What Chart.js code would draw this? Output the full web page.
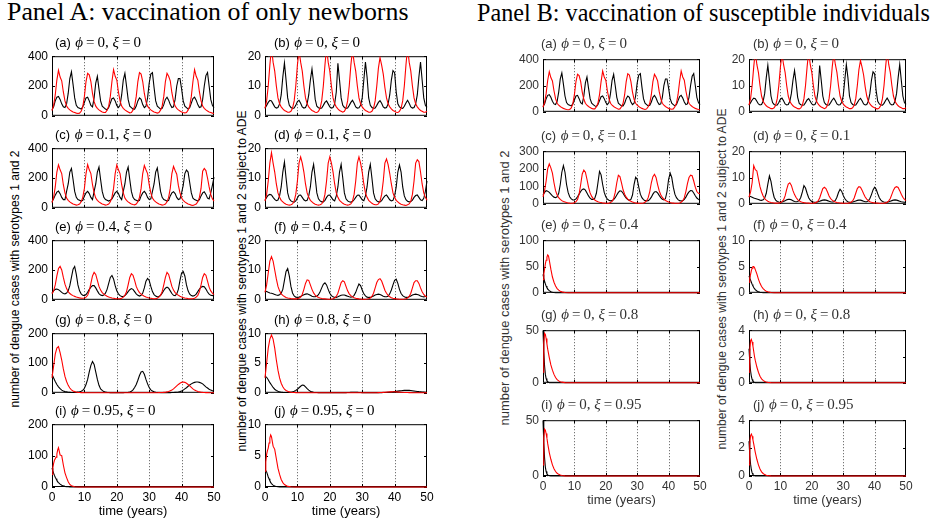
<!DOCTYPE html>
<html>
<head>
<meta charset="utf-8">
<script src="https://cdn.jsdelivr.net/npm/chart.js@4.4.1/dist/chart.umd.min.js"></script>
<style>
  body { margin: 0; background: #fff; width: 936px; height: 523px; position: relative; overflow: hidden;
         font-family: "Liberation Sans", Arial, sans-serif; }
  .cv { position: absolute; }
  .txt { position: absolute; white-space: nowrap; line-height: 1; }
  .lab { font-size: 13px; }
  .m { font-family: "Liberation Serif", serif; font-size: 15px; }
  .rot { transform: translate(-50%, -50%) rotate(-90deg); transform-origin: center; }
</style>
</head>
<body>
<script>
// time grids (years)
const years = Array.from({ length: 101 }, (_, i) => i / 2);
const yearsEarly = [0, 0.25, 0.5, 0.75, 1, 1.25, 1.5, 1.75, 2, 2.5, 3, 3.5, 4, 4.5, 5, 5.5, 6, 7, 8, 9, 10, 12, 50];
const xTicks = [0, 10, 20, 30, 40, 50];

// y tick sets
const ticks400 = [0, 200, 400];
const ticks300 = [0, 100, 200, 300];
const ticks200 = [0, 100, 200];
const ticks100 = [0, 50, 100];
const ticks50 = [0, 50];
const ticks20 = [0, 10, 20];
const ticks10 = [0, 5, 10];
const ticks4 = [0, 2, 4];

// Panel A (a) phi=0, xi=0  (also Panel B (a))
const aRed = [
  35, 70, 140, 240, 305, 260, 235, 160, 100, 65,
  50, 40, 32, 26, 22, 18, 16, 18, 30, 60,
  130, 230, 285, 275, 230, 150, 95, 65, 50, 40,
  32, 26, 22, 22, 38, 65, 130, 230, 310, 265,
  240, 160, 100, 65, 50, 40, 32, 26, 20, 22,
  38, 65, 130, 230, 290, 280, 230, 150, 95, 65,
  50, 40, 32, 26, 22, 18, 22, 38, 65, 130,
  230, 285, 265, 235, 155, 100, 65, 50, 40, 32,
  26, 22, 20, 22, 38, 65, 130, 230, 310, 265,
  240, 160, 100, 65, 50, 40, 32, 26, 22, 18,
  16];
const aBlack = [
  40, 60, 100, 125, 130, 110, 80, 60, 55, 80,
  150, 250, 295, 210, 120, 70, 55, 50, 45, 60,
  90, 120, 125, 100, 70, 60, 120, 220, 265, 180,
  100, 65, 55, 45, 40, 55, 85, 115, 120, 100,
  70, 55, 70, 140, 240, 285, 200, 110, 65, 55,
  45, 45, 65, 100, 120, 110, 75, 55, 65, 120,
  220, 280, 290, 190, 100, 65, 55, 45, 50, 75,
  110, 125, 105, 75, 55, 60, 110, 200, 250, 250,
  180, 100, 65, 55, 45, 55, 85, 115, 125, 105,
  75, 55, 60, 110, 200, 270, 290, 200, 110, 70,
  55];

// Panel A (b) ADE, phi=0, xi=0  (also Panel B (b))
const bRed = [
  2.5, 5, 10, 17, 23, 18, 15, 10, 6, 4,
  3, 2.3, 1.8, 1.5, 1.2, 1.2, 1.5, 2.5, 5, 10,
  17, 22, 18, 15, 10, 6, 4, 3, 2.3, 1.8,
  1.5, 1.2, 1.1, 1.5, 2.5, 5, 10, 17, 23, 18,
  15, 10, 6, 4, 3, 2.3, 1.8, 1.5, 1.2, 1.5,
  2.5, 5, 10, 17, 22, 18, 15, 10, 6, 4,
  3, 2.3, 1.8, 1.5, 1.2, 1.2, 1.5, 2.5, 5, 10,
  16, 19.5, 17, 14, 9.5, 6, 4, 3, 2.3, 1.8,
  1.5, 1.2, 1.1, 1.5, 2.5, 5, 10, 17, 23, 18,
  15, 10, 6, 4, 3, 2.3, 1.8, 1.5, 1.2, 1.2,
  1.5];
const bBlack = [
  2.5, 3.5, 4.5, 5.2, 5, 4, 3, 2.6, 2.8, 4,
  7, 13, 17.7, 12, 6, 3.5, 2.8, 2.5, 2.6, 3.5,
  4.8, 5.2, 4.2, 3, 2.6, 2.8, 4, 7, 12, 15.7,
  11, 5.5, 3.2, 2.7, 2.5, 2.6, 3.5, 4.5, 5, 4,
  3, 2.6, 2.8, 4, 8, 17.6, 12, 6, 3.5, 2.8,
  2.5, 2.6, 3.5, 4.5, 5.2, 4.2, 3, 2.6, 2.7, 3.5,
  6, 12, 18, 13, 6, 3.5, 2.8, 2.5, 2.6, 3.5,
  4.5, 5.1, 4.2, 3, 2.6, 2.8, 4, 7, 12, 15.2,
  14.5, 8, 4, 3, 2.6, 2.5, 3.2, 4.3, 5.2, 4.2,
  3, 2.6, 2.8, 4, 7, 13, 18, 12, 6, 3.5,
  2.8];

// Panel A (c) phi=0.1
const cRed = [
  35, 70, 140, 240, 288, 255, 230, 155, 100, 65,
  50, 40, 32, 26, 22, 18, 20, 25, 40, 70,
  130, 230, 290, 255, 230, 155, 100, 65, 50, 40,
  32, 26, 22, 18, 20, 25, 40, 70, 130, 230,
  288, 255, 230, 155, 100, 65, 50, 40, 32, 26,
  22, 20, 25, 40, 70, 130, 230, 284, 255, 230,
  155, 100, 65, 50, 40, 32, 26, 22, 18, 20,
  25, 40, 70, 130, 230, 278, 250, 225, 150, 100,
  65, 50, 40, 32, 26, 22, 18, 16, 20, 25,
  40, 70, 130, 245, 264, 250, 200, 140, 90, 60,
  45];
const cBlack = [
  40, 60, 85, 105, 112, 95, 70, 55, 55, 110,
  160, 240, 264, 190, 110, 70, 55, 50, 45, 50,
  80, 100, 110, 95, 70, 55, 110, 160, 240, 274,
  190, 110, 70, 55, 50, 45, 50, 60, 80, 100,
  110, 95, 70, 55, 110, 160, 240, 274, 190, 110,
  70, 55, 50, 45, 50, 80, 100, 110, 95, 70,
  55, 60, 110, 160, 240, 268, 190, 110, 70, 55,
  50, 45, 50, 80, 100, 108, 95, 70, 55, 60,
  100, 150, 230, 254, 240, 170, 100, 65, 55, 50,
  45, 55, 80, 100, 108, 90, 65, 60, 100, 150,
  205];

// Panel A (d) ADE, phi=0.1
const dRed = [
  2.2, 4.5, 9, 15, 18.5, 15, 12, 8, 5, 3.5,
  2.5, 2, 1.5, 1.2, 1, 0.9, 1, 1.3, 2.2, 4.5,
  9, 15, 17.1, 15, 12, 8, 5, 3.5, 2.5, 2,
  1.5, 1.2, 1, 0.9, 1, 1.3, 2.2, 4.5, 9, 15,
  17.1, 15, 12, 8, 5, 3.5, 2.5, 2, 1.5, 1.2,
  1, 0.9, 1, 1.3, 2.2, 4.5, 9, 15, 17.1, 15,
  12, 8, 5, 3.5, 2.5, 2, 1.5, 1.2, 1, 1,
  1.3, 2.2, 4.5, 9, 15, 16.4, 14.5, 11.5, 8, 5,
  3.5, 2.5, 2, 1.5, 1.2, 1, 0.9, 0.8, 1, 1.3,
  2.2, 4.5, 9, 15, 16.1, 15.5, 12, 8, 5, 3.5,
  2.5];
const dBlack = [
  2.5, 3.5, 4.2, 4.5, 4.3, 3.5, 2.8, 2.4, 2.6, 4,
  7, 12, 15.4, 10, 5, 3, 2.3, 2, 1.9, 2.3,
  3.3, 4.2, 4.3, 3.5, 2.7, 2.3, 2.5, 4, 7, 12,
  14.6, 10, 5, 3, 2.3, 2, 2, 2.5, 3.5, 4.2,
  4.3, 3.5, 2.7, 2.3, 4, 7, 12, 14.6, 10, 5,
  3, 2.3, 2, 1.9, 2.1, 2.7, 3.5, 4.2, 4.3, 3.5,
  2.7, 2.4, 4, 7, 12, 14.6, 10, 5, 3, 2.3,
  2, 2, 2.4, 3.3, 4, 4.3, 3.5, 2.7, 2.3, 2.5,
  4, 7, 12, 14.4, 12, 7, 4, 2.7, 2.2, 2,
  2.1, 2.6, 3.5, 4.1, 4.3, 3.5, 2.7, 2.4, 3.2, 5.5,
  9];

// Panel A (e) phi=0.4
const eRed = [
  40, 60, 100, 160, 210, 224, 200, 150, 105, 75,
  55, 42, 34, 28, 23, 19, 16, 13, 11, 10,
  12, 18, 30, 60, 110, 160, 184, 170, 130, 90,
  65, 48, 38, 30, 24, 19, 15, 12, 10, 8,
  7, 7, 8, 11, 18, 30, 55, 100, 150, 175,
  165, 130, 90, 65, 48, 38, 30, 24, 19, 15,
  12, 10, 8, 7, 8, 11, 18, 30, 55, 100,
  150, 184, 170, 130, 90, 65, 48, 38, 30, 24,
  19, 15, 12, 10, 8, 7, 7, 8, 11, 18,
  30, 55, 100, 150, 175, 165, 125, 85, 60, 45,
  35];
const eBlack = [
  45, 60, 70, 72, 68, 60, 50, 42, 40, 45,
  60, 95, 150, 205, 224, 170, 100, 60, 40, 30,
  28, 35, 50, 70, 85, 95, 95, 80, 60, 42,
  32, 28, 32, 45, 70, 110, 150, 163, 140, 95,
  60, 40, 28, 22, 22, 28, 40, 55, 68, 75,
  70, 55, 40, 30, 25, 30, 45, 80, 125, 143,
  130, 90, 55, 35, 25, 20, 22, 30, 45, 62,
  78, 85, 78, 60, 42, 30, 28, 40, 70, 130,
  180, 190, 160, 100, 60, 38, 28, 25, 28, 38,
  55, 72, 85, 90, 88, 72, 52, 38, 30, 28,
  32];

// Panel A (f) ADE, phi=0.4
const fRed = [
  2.5, 5, 9, 13, 14.5, 13, 10, 7, 4.5, 3,
  2, 1.5, 1.1, 0.8, 0.6, 0.5, 0.4, 0.35, 0.3, 0.3,
  0.35, 0.5, 0.9, 1.8, 3.5, 5.5, 6.7, 6.5, 5, 3.5,
  2.3, 1.6, 1.1, 0.8, 0.6, 0.45, 0.35, 0.3, 0.25, 0.2,
  0.2, 0.25, 0.35, 0.6, 1.1, 2.2, 4, 5.8, 6.4, 6,
  4.5, 3, 2, 1.4, 1, 0.7, 0.5, 0.4, 0.3, 0.25,
  0.2, 0.2, 0.2, 0.25, 0.35, 0.6, 1.1, 2.2, 4, 5.8,
  6.8, 7.1, 6.3, 4.8, 3.2, 2.2, 1.5, 1, 0.7, 0.5,
  0.4, 0.3, 0.25, 0.2, 0.2, 0.2, 0.25, 0.35, 0.6, 1.1,
  2.2, 4, 5.8, 6.4, 6.4, 5.5, 4, 2.7, 1.8, 1.2,
  0.9];
const fBlack = [
  3, 2.8, 2.5, 2.3, 2.2, 2, 1.8, 1.6, 1.5, 1.7,
  2.2, 3.5, 6.5, 9.5, 10.5, 8, 4.5, 2.3, 1.3, 0.9,
  0.8, 0.9, 1.1, 1.4, 1.7, 1.9, 2, 1.8, 1.5, 1.2,
  1, 1, 1.2, 1.7, 2.7, 4, 5.2, 5.7, 5, 3.5,
  2.2, 1.4, 1, 0.8, 0.8, 1, 1.3, 1.5, 1.6, 1.6,
  1.4, 1.2, 1, 0.9, 1, 1.5, 2.5, 4, 5.3, 4.8,
  3.3, 2, 1.3, 0.9, 0.8, 0.8, 1, 1.3, 1.6, 1.8,
  1.9, 1.8, 1.5, 1.2, 1, 1, 1.2, 2, 3.3, 5,
  6.5, 6.9, 5.5, 3.5, 2.1, 1.4, 1, 0.8, 0.8, 1,
  1.3, 1.6, 1.8, 1.9, 1.8, 1.6, 1.3, 1.1, 1, 1.1,
  1.4];

// Panel A (g) phi=0.8
const gRed = [
  50, 90, 130, 150, 155, 135, 110, 80, 55, 38,
  25, 16, 10, 6, 4, 2.5, 1.5, 1, 0.7, 0.5,
  0.4, 0.3, 0.2, 0.2, 0.2, 0.1, 0.1, 0.1, 0.1, 0.1,
  0.1, 0.1, 0.1, 0.1, 0.1, 0.1, 0.1, 0.1, 0.1, 0.1,
  0.1, 0.1, 0.1, 0.1, 0.1, 0.1, 0.1, 0.1, 0.1, 0.1,
  0.1, 0.1, 0.1, 0.1, 0.1, 0.1, 0.1, 0.1, 0.1, 0.1,
  0.1, 0.1, 0.1, 0.2, 0.3, 0.4, 0.6, 0.8, 1.1, 1.5,
  2, 3, 4.5, 6.5, 9, 13, 18, 23, 28, 32,
  35, 36, 35, 32, 28, 23, 18, 13, 9, 6.5,
  4.5, 3, 2, 1.4, 1, 0.7, 0.5, 0.4, 0.3, 0.2,
  0.2];
const gBlack = [
  62, 50, 38, 28, 20, 14, 9, 6, 4, 3,
  2, 1.5, 1, 1, 1.2, 1.6, 2.5, 3.5, 5, 8,
  15, 28, 45, 70, 92, 105, 95, 70, 45, 25,
  13, 8, 4, 2.5, 1.5, 1, 0.7, 0.5, 0.5, 0.5,
  0.5, 0.5, 0.5, 0.5, 0.6, 0.8, 1, 1.5, 3, 5,
  10, 18, 28, 42, 58, 70, 72, 62, 45, 30,
  18, 10, 6, 3.5, 2, 1.2, 0.8, 0.5, 0.5, 0.5,
  0.5, 0.5, 0.5, 0.6, 0.8, 1, 1.5, 2, 2.5, 4,
  6, 9, 13, 17, 22, 26, 30, 33, 35, 36,
  36, 35, 33, 30, 25, 20, 16, 12, 9, 7,
  5];

// Panel A (h) ADE, phi=0.8
const hRed = [
  2.5, 5, 7.5, 9, 9.7, 9, 7.5, 5.5, 3.8, 2.5,
  1.6, 1, 0.6, 0.4, 0.25, 0.15, 0.1, 0.06, 0.04, 0.03,
  0.02, 0.02, 0.02, 0.02, 0.02, 0.02, 0.02, 0.02, 0.02, 0.02,
  0.02, 0.02, 0.02, 0.02, 0.02, 0.02, 0.02, 0.02, 0.02, 0.02,
  0.02, 0.02, 0.02, 0.02, 0.02, 0.02, 0.02, 0.02, 0.02, 0.02,
  0.02, 0.02, 0.02, 0.02, 0.02, 0.02, 0.02, 0.02, 0.02, 0.02,
  0.02, 0.02, 0.02, 0.02, 0.02, 0.02, 0.02, 0.02, 0.02, 0.02,
  0.03, 0.04, 0.05, 0.07, 0.09, 0.11, 0.13, 0.15, 0.16, 0.17,
  0.17, 0.16, 0.14, 0.12, 0.1, 0.08, 0.06, 0.05, 0.04, 0.03,
  0.03, 0.02, 0.02, 0.02, 0.02, 0.02, 0.02, 0.02, 0.02, 0.02,
  0.02];
const hBlack = [
  2.8, 2.6, 2.2, 1.7, 1.3, 0.9, 0.6, 0.4, 0.25, 0.15,
  0.1, 0.07, 0.05, 0.05, 0.05, 0.07, 0.1, 0.15, 0.25, 0.4,
  0.6, 0.85, 1.1, 1.3, 1.25, 1, 0.7, 0.45, 0.25, 0.15,
  0.1, 0.06, 0.04, 0.03, 0.03, 0.03, 0.03, 0.03, 0.03, 0.03,
  0.03, 0.03, 0.03, 0.03, 0.03, 0.03, 0.03, 0.03, 0.03, 0.03,
  0.03, 0.04, 0.05, 0.07, 0.09, 0.1, 0.09, 0.07, 0.05, 0.04,
  0.03, 0.03, 0.03, 0.03, 0.03, 0.03, 0.03, 0.03, 0.03, 0.03,
  0.03, 0.03, 0.03, 0.04, 0.05, 0.06, 0.08, 0.1, 0.13, 0.16,
  0.2, 0.24, 0.28, 0.32, 0.35, 0.38, 0.4, 0.41, 0.41, 0.4,
  0.38, 0.35, 0.31, 0.27, 0.23, 0.19, 0.16, 0.13, 0.11, 0.09,
  0.08];

// Panel A (i), (j) phi=0.95 (on yearsEarly)
const iRed = [40, 60, 75, 85, 90, 95, 105, 118, 125, 102, 100, 70, 45, 30, 17, 8, 4, 1, 0.2, 0.05, 0, 0, 0];
const iBlack = [60, 52, 44, 37, 31, 26, 21, 17, 14, 9, 5.5, 3.5, 2, 1.2, 0.7, 0.4, 0.2, 0.05, 0, 0, 0, 0, 0];
const jRed = [2.5, 4, 5.2, 5.8, 6.2, 7, 7.8, 8.3, 8, 6.5, 6, 4.5, 3, 2, 1.2, 0.7, 0.4, 0.1, 0.03, 0.01, 0, 0, 0];
const jBlack = [2.5, 2.6, 2.4, 2, 1.6, 1.3, 1, 0.75, 0.55, 0.3, 0.15, 0.08, 0.04, 0.02, 0.01, 0, 0, 0, 0, 0, 0, 0, 0];

// Panel B (c) xi=0.1
const scRed = [
  40, 75, 130, 200, 228, 205, 175, 120, 75, 50,
  35, 25, 18, 13, 10, 7, 5, 4, 3.5, 4,
  6, 12, 25, 55, 110, 170, 192, 180, 140, 95,
  62, 42, 30, 22, 16, 12, 9, 7, 5, 4,
  3, 3, 4, 7, 14, 30, 65, 120, 163, 155,
  120, 80, 55, 38, 27, 19, 14, 10, 7, 5,
  4, 3, 3, 3.5, 5, 9, 18, 35, 70, 120,
  155, 168, 150, 110, 75, 52, 36, 26, 19, 14,
  10, 7, 5, 4, 3, 3, 3.5, 5, 9, 18,
  35, 70, 115, 150, 163, 160, 130, 95, 70, 60,
  58];
const scBlack = [
  50, 65, 75, 72, 65, 55, 45, 38, 35, 40,
  60, 110, 180, 218, 180, 110, 65, 40, 28, 22,
  22, 28, 40, 55, 70, 82, 85, 78, 62, 45,
  32, 25, 25, 32, 60, 120, 185, 165, 110, 65,
  40, 27, 20, 17, 18, 24, 35, 50, 65, 74,
  72, 60, 45, 32, 24, 20, 25, 50, 110, 151,
  140, 95, 55, 35, 24, 18, 16, 18, 25, 38,
  55, 68, 70, 62, 48, 35, 26, 22, 30, 70,
  140, 175, 150, 95, 55, 35, 24, 18, 16, 18,
  25, 38, 55, 68, 76, 75, 62, 46, 33, 25,
  20];

// Panel B (d) ADE, xi=0.1
const sdRed = [
  2.5, 4.5, 8, 14.5, 13, 12.5, 9.5, 6.5, 4.5, 3,
  2, 1.4, 1, 0.7, 0.5, 0.4, 0.3, 0.25, 0.25, 0.3,
  0.45, 0.8, 1.5, 3, 5.5, 7.5, 8, 7, 5, 3.5,
  2.4, 1.6, 1.1, 0.8, 0.6, 0.45, 0.35, 0.3, 0.25, 0.2,
  0.2, 0.25, 0.35, 0.6, 1.1, 2.2, 4, 5.8, 6.3, 5.8,
  4.5, 3, 2, 1.4, 1, 0.7, 0.5, 0.4, 0.3, 0.25,
  0.2, 0.2, 0.2, 0.25, 0.35, 0.6, 1.1, 2.2, 4, 5.8,
  6.5, 6.3, 5.2, 3.8, 2.6, 1.8, 1.2, 0.8, 0.6, 0.45,
  0.35, 0.3, 0.25, 0.2, 0.2, 0.2, 0.25, 0.35, 0.6, 1.1,
  2, 3.6, 5.2, 6.2, 6.5, 6.2, 5, 3.6, 2.5, 1.7,
  1.2];
const sdBlack = [
  3, 2.8, 2.5, 2.2, 2, 1.8, 1.6, 1.4, 1.3, 1.5,
  2.2, 4, 7.5, 10.6, 8.5, 5, 2.5, 1.4, 0.9, 0.7,
  0.6, 0.7, 0.9, 1.2, 1.5, 1.7, 1.7, 1.5, 1.2, 0.9,
  0.8, 0.9, 1.3, 2.5, 4.5, 6.9, 6, 4, 2.3, 1.4,
  0.9, 0.7, 0.6, 0.6, 0.8, 1, 1.2, 1.4, 1.5, 1.4,
  1.2, 1, 0.8, 0.7, 0.8, 1.3, 2.5, 4.3, 5.5, 4.8,
  3.2, 2, 1.2, 0.8, 0.6, 0.6, 0.7, 0.9, 1.1, 1.3,
  1.4, 1.4, 1.2, 1, 0.8, 0.8, 1.1, 2, 3.5, 5.3,
  6.3, 5.5, 3.8, 2.3, 1.4, 0.9, 0.7, 0.6, 0.6, 0.8,
  1, 1.2, 1.4, 1.5, 1.4, 1.2, 1, 0.8, 0.7, 0.6,
  0.6];

// Panel B (e)-(j) on yearsEarly
const seRed = [25, 35, 45, 55, 62, 68, 72, 70, 62, 45, 30, 20, 13, 8, 5, 3, 1.8, 0.6, 0.2, 0.1, 0, 0, 0];
const seBlack = [35, 28, 22, 17, 13, 10, 7.5, 5.5, 4, 2, 1, 0.5, 0.2, 0.1, 0, 0, 0, 0, 0, 0, 0, 0, 0];
const sfRed = [2, 2.8, 3.5, 4.2, 4.7, 5, 5, 4.8, 4.4, 3.6, 2.6, 1.8, 1.2, 0.8, 0.5, 0.3, 0.2, 0.06, 0.02, 0, 0, 0, 0];
const sfBlack = [3.2, 2.8, 2.4, 2, 1.6, 1.3, 1, 0.8, 0.6, 0.35, 0.2, 0.1, 0.05, 0.02, 0, 0, 0, 0, 0, 0, 0, 0, 0];
const sgRed = [10, 38, 47, 46, 42, 37, 32, 28, 24, 17, 12, 8, 5, 3, 1.8, 1, 0.6, 0.2, 0.05, 0, 0, 0, 0];
const sgBlack = [50, 30, 16, 8, 4, 2, 1, 0.5, 0.2, 0.05, 0, 0, 0, 0, 0, 0, 0, 0, 0, 0, 0, 0, 0];
const shRed = [0.8, 2.4, 3.2, 3.3, 3.1, 2.8, 2.4, 2, 1.7, 1.2, 0.8, 0.5, 0.3, 0.18, 0.1, 0.06, 0.03, 0.01, 0, 0, 0, 0, 0];
const shBlack = [2.6, 1.6, 0.9, 0.5, 0.25, 0.12, 0.06, 0.03, 0.01, 0, 0, 0, 0, 0, 0, 0, 0, 0, 0, 0, 0, 0, 0];
const siRed = [10, 34, 42, 41, 38, 34, 29, 25, 21, 15, 10, 6.5, 4, 2.5, 1.5, 0.9, 0.5, 0.15, 0.04, 0, 0, 0, 0];
const siBlack = [50, 30, 16, 8, 4, 2, 1, 0.5, 0.2, 0.05, 0, 0, 0, 0, 0, 0, 0, 0, 0, 0, 0, 0, 0];
const sjRed = [0.8, 2.3, 2.9, 3, 2.85, 2.6, 2.3, 2, 1.7, 1.2, 0.8, 0.5, 0.3, 0.18, 0.1, 0.06, 0.03, 0.01, 0, 0, 0, 0, 0];
const sjBlack = [2.5, 1.5, 0.85, 0.45, 0.22, 0.1, 0.05, 0.02, 0.01, 0, 0, 0, 0, 0, 0, 0, 0, 0, 0, 0, 0, 0, 0];

// layout of the plot boxes (page pixels)
const A_COLS = [52, 265], A_W = 162, A_ROWS = [53, 145, 237, 330, 421], A_H = 66;
const B_COLS = [543, 749], B_W = 157, B_ROWS = [56, 148, 237, 327, 417], B_H = 59;

const plots = [
  ['A', 0, 0, 'a', '0', '0', years, aRed, aBlack, 400, ticks400],
  ['A', 1, 0, 'b', '0', '0', years, bRed, bBlack, 20, ticks20],
  ['A', 0, 1, 'c', '0.1', '0', years, cRed, cBlack, 400, ticks400],
  ['A', 1, 1, 'd', '0.1', '0', years, dRed, dBlack, 20, ticks20],
  ['A', 0, 2, 'e', '0.4', '0', years, eRed, eBlack, 400, ticks400],
  ['A', 1, 2, 'f', '0.4', '0', years, fRed, fBlack, 20, ticks20],
  ['A', 0, 3, 'g', '0.8', '0', years, gRed, gBlack, 200, ticks200],
  ['A', 1, 3, 'h', '0.8', '0', years, hRed, hBlack, 10, ticks10],
  ['A', 0, 4, 'i', '0.95', '0', yearsEarly, iRed, iBlack, 200, ticks200],
  ['A', 1, 4, 'j', '0.95', '0', yearsEarly, jRed, jBlack, 10, ticks10],
  ['B', 0, 0, 'a', '0', '0', years, aRed, aBlack, 400, ticks400],
  ['B', 1, 0, 'b', '0', '0', years, bRed, bBlack, 20, ticks20],
  ['B', 0, 1, 'c', '0', '0.1', years, scRed, scBlack, 300, ticks300],
  ['B', 1, 1, 'd', '0', '0.1', years, sdRed, sdBlack, 20, ticks20],
  ['B', 0, 2, 'e', '0', '0.4', yearsEarly, seRed, seBlack, 100, ticks100],
  ['B', 1, 2, 'f', '0', '0.4', yearsEarly, sfRed, sfBlack, 10, ticks10],
  ['B', 0, 3, 'g', '0', '0.8', yearsEarly, sgRed, sgBlack, 50, ticks50],
  ['B', 1, 3, 'h', '0', '0.8', yearsEarly, shRed, shBlack, 4, ticks4],
  ['B', 0, 4, 'i', '0', '0.95', yearsEarly, siRed, siBlack, 50, ticks50],
  ['B', 1, 4, 'j', '0', '0.95', yearsEarly, sjRed, sjBlack, 4, ticks4]
];

// dotted x grid, box and inward ticks, drawn under the curves (MATLAB layer bottom)
const framePlugin = {
  id: 'frame',
  beforeDatasetsDraw(chart) {
    const { ctx, chartArea: a, scales: { x, y } } = chart;
    ctx.save();
    ctx.lineWidth = 1;
    ctx.strokeStyle = '#555';
    ctx.setLineDash([1, 2]);
    [10, 20, 30, 40].forEach(v => {
      const px = Math.round(x.getPixelForValue(v)) + 0.5;
      ctx.beginPath(); ctx.moveTo(px, a.top); ctx.lineTo(px, a.bottom); ctx.stroke();
    });
    ctx.setLineDash([]);
    ctx.strokeStyle = '#000';
    ctx.beginPath();
    [10, 20, 30, 40].forEach(v => {
      const px = Math.round(x.getPixelForValue(v)) + 0.5;
      ctx.moveTo(px, a.bottom); ctx.lineTo(px, a.bottom - 3);
      ctx.moveTo(px, a.top); ctx.lineTo(px, a.top + 3);
    });
    y.ticks.forEach(t => {
      const py = Math.round(y.getPixelForValue(t.value)) + 0.5;
      ctx.moveTo(a.left, py); ctx.lineTo(a.left + 3, py);
      ctx.moveTo(a.right, py); ctx.lineTo(a.right - 3, py);
    });
    ctx.stroke();
    ctx.strokeRect(a.left + 0.5, a.top + 0.5, a.right - a.left - 1, a.bottom - a.top - 1);
    ctx.restore();
  }
};

function makePlot(p) {
  const [panel, col, row, letter, phi, xi, t, red, black, ymax, yTicks] = p;
  const px = panel === 'A' ? A_COLS[col] : B_COLS[col];
  const py = panel === 'A' ? A_ROWS[row] : B_ROWS[row];
  const w = panel === 'A' ? A_W : B_W;
  const h = panel === 'A' ? A_H : B_H;
  const bottom = row === 4;
  const color = panel === 'A' ? '#000' : '#333';

  const cv = document.createElement('canvas');
  cv.className = 'cv';
  cv.width = 40 + w + 10;
  cv.height = 8 + h + (bottom ? 24 : 8);
  cv.style.left = (px - 40) + 'px';
  cv.style.top = (py - 8) + 'px';
  document.body.appendChild(cv);

  const font = { family: '"Liberation Sans", Arial, sans-serif', size: 12 };
  const line = (vals, c) => ({
    data: vals.map((v, i) => ({ x: t[i], y: v })),
    borderColor: c, borderWidth: 1.1, pointRadius: 0, tension: 0,
    clip: { left: 1, right: 1, top: 0, bottom: 2 }
  });

  new Chart(cv, {
    type: 'line',
    data: { datasets: [line(red, '#ff0000'), line(black, '#000000')] },
    options: {
      responsive: false, animation: false, devicePixelRatio: 1,
      layout: { padding: { left: 0, right: 10, top: 8, bottom: bottom ? 0 : 8 } },
      plugins: { legend: { display: false }, tooltip: { enabled: false } },
      scales: {
        x: {
          type: 'linear', min: 0, max: 50,
          grid: { display: false, drawTicks: false }, border: { display: false },
          ticks: { display: bottom, font, color, padding: 3, maxRotation: 0, autoSkip: false },
          afterBuildTicks(s) { s.ticks = xTicks.map(v => ({ value: v })); },
          afterFit(s) { s.height = bottom ? 24 : 0; }
        },
        y: {
          type: 'linear', min: 0, max: ymax,
          grid: { display: false, drawTicks: false }, border: { display: false },
          ticks: { font, color, padding: 4, autoSkip: false },
          afterBuildTicks(s) { s.ticks = yTicks.map(v => ({ value: v })); },
          afterFit(s) { s.width = 40; }
        }
      }
    },
    plugins: [framePlugin]
  });

  // subplot label, e.g. "(a) phi = 0, xi = 0"
  const lab = document.createElement('div');
  lab.className = 'txt';
  lab.style.color = color;
  lab.style.left = (px + (panel === 'A' ? 3 : -2) + (col === 1 ? 6 : 0)) + 'px';
  lab.style.top = (py - (panel === 'A' ? 19 : 21)) + 'px';
  lab.innerHTML = '<span class="lab">(' + letter + ')</span> <span class="m"><i>ϕ</i>&#8201;=&#8201;' + phi +
    ', <i>ξ</i>&#8201;=&#8201;' + xi + '</span>';
  document.body.appendChild(lab);

  if (bottom) {
    const xl = document.createElement('div');
    xl.className = 'txt';
    xl.style.fontSize = '13px';
    xl.style.color = color;
    xl.textContent = 'time (years)';
    xl.style.left = (px + w / 2) + 'px';
    xl.style.top = (py + h + 17) + 'px';
    xl.style.transform = 'translateX(-50%)';
    document.body.appendChild(xl);
  }
}

// text fitted to a measured length
const meas = document.createElement('canvas').getContext('2d');
function fitSize(text, family, target) {
  meas.font = '20px ' + family;
  return 20 * target / meas.measureText(text).width;
}
function addTitle(text, left, right, baseline) {
  const fam = '"Liberation Serif", serif';
  const fs = fitSize(text, fam, right - left);
  const d = document.createElement('div');
  d.className = 'txt';
  d.style.fontFamily = fam;
  d.style.fontSize = fs + 'px';
  d.style.left = left + 'px';
  d.style.top = (baseline - 0.8375 * fs) + 'px';
  d.textContent = text;
  document.body.appendChild(d);
}
function addYTitle(text, cx, cy, len, color) {
  const fam = '"Liberation Sans", Arial, sans-serif';
  const fs = fitSize(text, fam, len);
  const d = document.createElement('div');
  d.className = 'txt rot';
  d.style.fontFamily = fam;
  d.style.fontSize = fs + 'px';
  d.style.color = color;
  d.style.left = cx + 'px';
  d.style.top = cy + 'px';
  d.textContent = text;
  document.body.appendChild(d);
}

addTitle('Panel A: vaccination of only newborns', 7, 410, 21);
addTitle('Panel B: vaccination of susceptible individuals', 477, 930, 21);
addYTitle('number of dengue cases with serotypes 1 and 2', 15, 279, 257, '#000');
addYTitle('number of dengue cases with serotypes 1 and 2 subject to ADE', 242, 281, 342, '#000');
addYTitle('number of dengue cases with serotypes 1 and 2', 505, 288, 275, '#333');
addYTitle('number of dengue cases with serotypes 1 and 2 subject to ADE', 722, 279, 342, '#333');

plots.forEach(makePlot);

const bad = plots.filter(p => p[7].length !== p[6].length || p[8].length !== p[6].length)
  .map(p => p[0] + p[3] + ':' + p[7].length + '/' + p[8].length);
if (bad.length) throw new Error('length mismatch ' + bad.join(' '));
</script>
</body>
</html>
